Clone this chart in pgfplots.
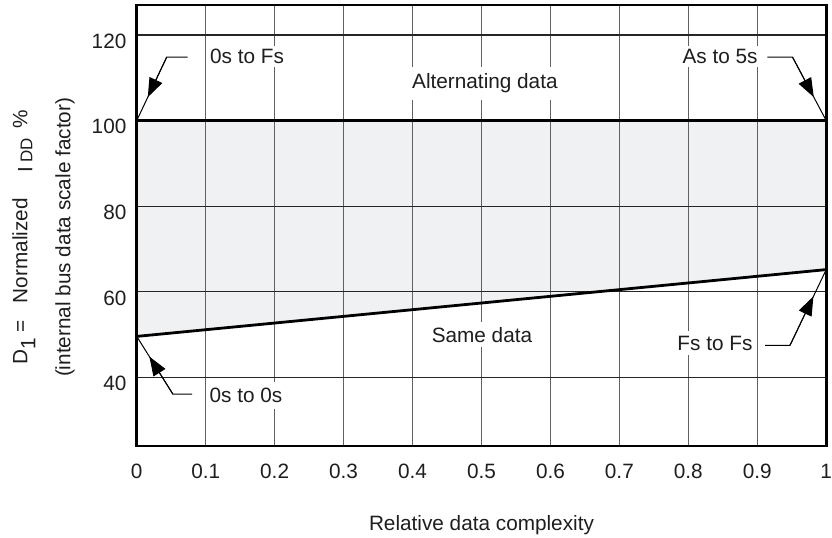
\documentclass[border=0pt]{standalone}
\usepackage{pgfplots}
\pgfplotsset{compat=1.18}
\usepackage{fontspec}
\setmainfont{Liberation Sans}
\usetikzlibrary{arrows.meta,calc}
\definecolor{bandfill}{RGB}{240,241,243}
\definecolor{txt}{RGB}{30,30,30}
\newcommand\lab{\fontsize{10.4}{12.5}\selectfont}
\tikzset{lbl/.style={fill=white, inner xsep=2pt, inner ysep=1.5pt, font=\lab, text=txt},
  lead/.style={line width=0.5pt, black},
  leadarrow/.style={line width=0.5pt, black, -{Triangle[length=9.5pt,width=7pt]}}}
\begin{document}
\begin{tikzpicture}
\begin{axis}[
  set layers,
  width=345.5pt, height=221pt, scale only axis,
  xmin=0, xmax=1, ymin=24, ymax=127,
  xtick={0,0.1,0.2,0.3,0.4,0.5,0.6,0.7,0.8,0.9,1},
  xticklabels={0,0.1,0.2,0.3,0.4,0.5,0.6,0.7,0.8,0.9,1},
  ytick={40,60,80,100,120},
  yticklabels={40,60,80,100,120},
  major tick length=0pt,
  grid=major,
  major x grid style={line width=0.6pt, color=black!62},
  major y grid style={line width=0.55pt, color=black!85},
  axis line style={line width=1.3pt, black},
  tick label style={font=\lab, text=txt, inner sep=0pt},
  xticklabel style={yshift=-9pt},
  yticklabel style={xshift=-5pt, yshift=-3pt},
  xlabel={Relative data complexity},
  xlabel style={font=\lab, text=txt, inner sep=0pt, at={(axis description cs:0.5,-0.179)}, anchor=center},
  ylabel={D\raisebox{-4pt}{1} =\ \ \ Normalized\hspace{13pt}\raisebox{-2.5pt}{I\,{\fontsize{8.5}{10}\selectfont DD}}\hspace{5pt}\%\\[9pt](internal bus data scale factor)},
  ylabel style={align=center, font=\lab, text=txt, inner sep=0pt, at={(axis description cs:-0.1353,0.473)}, anchor=center},
  clip=false,
]
\addplot[draw=none, fill=bandfill, on layer=axis background] coordinates {(0,100) (1,100) (1,65.2) (0,49.6)};
\addplot[black, line width=1.6pt] coordinates {(0,100) (1,100)};
\addplot[black, line width=1.4pt] coordinates {(0,49.6) (1,65.2)};

\node[lbl, inner ysep=3.5pt] at (axis cs:0.505,108.65) {Alternating data};
\node[lbl, inner ysep=2.5pt] at (axis cs:0.5007,50.0) {Same data};
\node[lbl] at (axis cs:0.16,114.94) {0s to Fs};
\node[lbl] at (axis cs:0.846,114.94) {As to 5s};
\node[lbl, inner ysep=3pt] at (axis cs:0.1585,35.8) {0s to 0s};
\node[lbl, inner ysep=2.5pt] at (axis cs:0.8386,48.04) {Fs to Fs};

% 0s to Fs
\draw[lead] (axis cs:0.0738,114.8) -- (axis cs:0.0434,114.8) -- (axis cs:0,100);
\draw[leadarrow] (axis cs:0.0434,114.8) -- ($(axis cs:0.0434,114.8)!0.63!(axis cs:0,100)$);
% As to 5s
\draw[lead] (axis cs:0.9148,114.8) -- (axis cs:0.9512,114.8) -- (axis cs:1,100);
\draw[leadarrow] (axis cs:0.9512,114.8) -- ($(axis cs:0.9512,114.8)!0.63!(axis cs:1,100)$);
% 0s to 0s
\draw[lead] (axis cs:0.0805,36.1) -- (axis cs:0.0525,36.1) -- (axis cs:0,49.6);
\draw[leadarrow] (axis cs:0.0525,36.1) -- ($(axis cs:0.0525,36.1)!0.65!(axis cs:0,49.6)$);
% Fs to Fs
\draw[lead] (axis cs:0.9113,47.53) -- (axis cs:0.9475,47.53) -- (axis cs:1,65.2);
\draw[leadarrow] (axis cs:0.9475,47.53) -- ($(axis cs:0.9475,47.53)!0.645!(axis cs:1,65.2)$);

\path (rel axis cs:-0.1983,-0.2081) rectangle (rel axis cs:1.0058,1.0113);
\end{axis}
\end{tikzpicture}
\end{document}
